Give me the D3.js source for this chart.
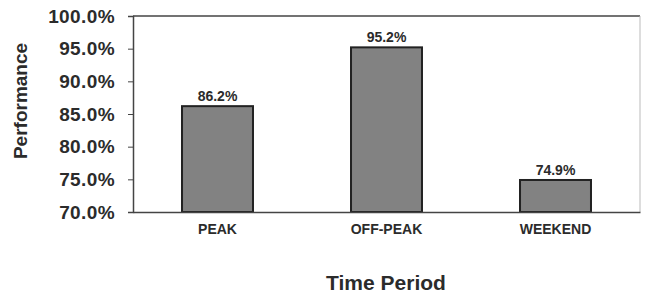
<!DOCTYPE html>
<html>
<head>
<meta charset="utf-8">
<script src="https://cdn.jsdelivr.net/npm/d3@7"></script>
<style>
  body { margin: 0; background: #fff; }
  svg { font-family: "Liberation Sans", Arial, sans-serif; }
</style>
</head>
<body>
<svg id="chart"></svg>
<script>
// chart data
var categories = ["PEAK", "OFF-PEAK", "WEEKEND"];
var values = [86.2, 95.2, 74.9];
var yTicks = [70, 75, 80, 85, 90, 95, 100];

var data = categories.map(function(c, i) { return {name: c, value: values[i]}; });

var W = 649, H = 297;
var margin = {top: 16, right: 9, bottom: 85, left: 133},
    width = W - margin.left - margin.right,
    height = H - margin.top - margin.bottom;

var x = d3.scaleBand()
    .range([0, width])
    .paddingInner(0.58)
    .paddingOuter(0.29)
    .domain(categories);

var y = d3.scaleLinear()
    .range([height, 0])
    .domain([70, 100]);

var svg = d3.select("#chart")
    .attr("width", W)
    .attr("height", H)
  .append("g")
    .attr("transform", "translate(" + margin.left + "," + margin.top + ")");

// plot frame (top + faint right)
svg.append("line")
    .attr("x1", 0).attr("x2", width).attr("y1", 0).attr("y2", 0)
    .attr("stroke", "#444").attr("stroke-width", 1.5);
svg.append("line")
    .attr("x1", width).attr("x2", width).attr("y1", 0).attr("y2", height)
    .attr("stroke", "#bbb").attr("stroke-width", 1);

// bars
svg.selectAll(".bar")
    .data(data)
  .enter().append("rect")
    .attr("class", "bar")
    .attr("x", function(d) { return x(d.name); })
    .attr("width", x.bandwidth())
    .attr("y", function(d) { return y(d.value); })
    .attr("height", function(d) { return height - y(d.value); })
    .attr("fill", "#828282")
    .attr("stroke", "#222")
    .attr("stroke-width", 2);

// value labels
svg.selectAll(".val")
    .data(data)
  .enter().append("text")
    .attr("class", "val")
    .attr("x", function(d) { return x(d.name) + x.bandwidth() / 2; })
    .attr("y", function(d) { return y(d.value) - 5; })
    .attr("text-anchor", "middle")
    .style("font-size", "14px")
    .style("font-weight", "bold")
    .attr("fill", "#2b2b2b")
    .text(function(d) { return d.value.toFixed(1) + "%"; });

// y axis
var yAxis = svg.append("g")
    .call(d3.axisLeft(y).tickValues(yTicks).tickSize(5).tickPadding(13)
      .tickFormat(function(d) { return d.toFixed(1) + "%"; }));
yAxis.select(".domain").attr("stroke", "#444").attr("stroke-width", 1.5);
yAxis.selectAll(".tick line").attr("stroke", "#444");
yAxis.selectAll(".tick text")
    .style("font-size", "19px")
    .style("font-weight", "bold")
    .style("letter-spacing", "0.4px")
    .attr("fill", "#2b2b2b");

// x axis
var xAxis = svg.append("g")
    .attr("transform", "translate(0," + height + ")")
    .call(d3.axisBottom(x).tickSize(0).tickPadding(12));
xAxis.select(".domain").attr("stroke", "#444").attr("stroke-width", 1.5);
xAxis.selectAll(".tick text")
    .style("font-size", "14px")
    .style("font-weight", "bold")
    .attr("fill", "#2b2b2b");

// axis titles
svg.append("text")
    .attr("transform", "rotate(-90)")
    .attr("x", -(101 - margin.top))
    .attr("y", -margin.left + 27)
    .attr("text-anchor", "middle")
    .style("font-size", "19px")
    .style("font-weight", "bold")
    .attr("fill", "#2b2b2b")
    .text("Performance");

svg.append("text")
    .attr("x", 386 - margin.left)
    .attr("y", 290 - margin.top)
    .attr("text-anchor", "middle")
    .style("font-size", "21px")
    .style("font-weight", "bold")
    .attr("fill", "#2b2b2b")
    .text("Time Period");
</script>
</body>
</html>
